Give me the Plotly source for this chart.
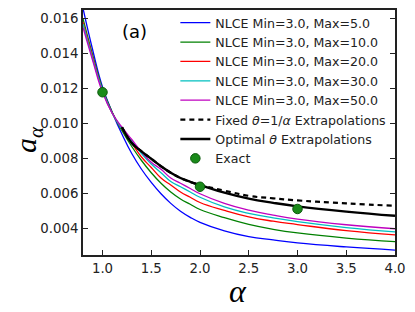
import plotly.graph_objects as go

alpha = [0.8, 0.9, 1.0, 1.1, 1.2, 1.3, 1.4, 1.5, 1.6, 1.7, 1.8, 1.9, 2.0, 2.25, 2.5, 2.75, 3.0, 3.5, 4.0]
nlce_max5 = [0.0166, 0.0142, 0.0121, 0.01065, 0.0094, 0.0083, 0.0074, 0.00665, 0.0060, 0.00545, 0.0050, 0.00465, 0.00437,
             0.00388, 0.00355, 0.00336, 0.00319, 0.00296, 0.00278]
nlce_max10 = [0.0160, 0.0139, 0.0120, 0.01065, 0.0096, 0.0087, 0.0079, 0.0072, 0.0066, 0.0061, 0.0057, 0.0054, 0.0051,
              0.00463, 0.00425, 0.00397, 0.00376, 0.00347, 0.00327]
nlce_max20 = [0.0158, 0.0138, 0.0119, 0.0106, 0.0097, 0.0089, 0.0081, 0.0075, 0.0069, 0.0065, 0.0061, 0.0058, 0.0055,
              0.00505, 0.00468, 0.00443, 0.00424, 0.00389, 0.00365]
nlce_max30 = [0.0157, 0.0137, 0.0119, 0.0106, 0.0097, 0.0090, 0.0083, 0.0077, 0.0072, 0.0067, 0.0064, 0.0061, 0.0058,
              0.00525, 0.00488, 0.00462, 0.00441, 0.00407, 0.00382]
nlce_max50 = [0.0155, 0.0136, 0.0118, 0.0106, 0.0098, 0.0091, 0.0084, 0.0078, 0.0074, 0.0069, 0.0066, 0.0063, 0.0060,
              0.00545, 0.00506, 0.00478, 0.00455, 0.00423, 0.00400]

alpha_ext = [1.2, 1.3, 1.4, 1.5, 1.6, 1.7, 1.8, 1.9, 2.0, 2.25, 2.5, 2.75, 3.0, 3.5, 4.0]
fixed_theta = [0.0098, 0.0089, 0.00842, 0.0080, 0.00757, 0.0072, 0.0069, 0.00668, 0.0065,
               0.00618, 0.00588, 0.00574, 0.00562, 0.00545, 0.00531]
optimal_theta = [0.0098, 0.0089, 0.00842, 0.0080, 0.00757, 0.0072, 0.0069, 0.00668, 0.0065,
                 0.00606, 0.00572, 0.00548, 0.00528, 0.00498, 0.00474]

alpha_exact = [1.0, 2.0, 3.0]
exact = [0.0118, 0.0064, 0.00513]

x_ticks = [1.0, 1.5, 2.0, 2.5, 3.0, 3.5, 4.0]
y_ticks = [0.004, 0.006, 0.008, 0.010, 0.012, 0.014, 0.016]

fig = go.Figure()
nlce = [
    ("NLCE Min=3.0, Max=5.0", nlce_max5, "#0000ff"),
    ("NLCE Min=3.0, Max=10.0", nlce_max10, "#008000"),
    ("NLCE Min=3.0, Max=20.0", nlce_max20, "#ff0000"),
    ("NLCE Min=3.0, Max=30.0", nlce_max30, "#00bfbf"),
    ("NLCE Min=3.0, Max=50.0", nlce_max50, "#bf00bf"),
]
for name, ys, col in nlce:
    fig.add_trace(go.Scatter(x=alpha, y=ys, mode="lines", name=name,
                             line=dict(color=col, width=1.3, shape="spline", smoothing=1.3)))

fig.add_trace(go.Scatter(x=alpha_ext, y=fixed_theta, mode="lines",
                         name="Fixed <i>θ</i>=1/<i>α</i> Extrapolations",
                         line=dict(color="black", width=2.2, dash="5px,4px", shape="spline", smoothing=1.3)))
fig.add_trace(go.Scatter(x=alpha_ext, y=optimal_theta, mode="lines",
                         name="Optimal <i>θ</i> Extrapolations",
                         line=dict(color="black", width=2.4, shape="spline", smoothing=1.3)))
fig.add_trace(go.Scatter(x=alpha_exact, y=exact, mode="markers", name="Exact",
                         marker=dict(color="#1a8a1a", size=9.5, line=dict(color="#0b5a0b", width=1))))

fig.add_annotation(text="(a)", x=0.166, y=0.913, xref="paper", yref="paper",
                   xanchor="center", yanchor="middle",
                   showarrow=False, font=dict(family="DejaVu Sans", size=18, color="black"))
# axis titles
fig.add_annotation(text="<i>α</i>", x=0.497, y=-0.148, xref="paper", yref="paper",
                   xanchor="center", yanchor="middle", showarrow=False,
                   font=dict(family="Liberation Serif", size=32, color="black"))
fig.add_annotation(text="<i>a</i><sub><i>α</i></sub>", x=-0.176, y=0.47, xref="paper", yref="paper",
                   xanchor="center", yanchor="middle", showarrow=False, textangle=-90,
                   font=dict(family="Liberation Serif", size=30, color="black"))

axis_common = dict(showline=True, linecolor="#222", linewidth=1.8,
                   ticks="inside", ticklen=5, tickwidth=1.2, tickcolor="#222",
                   showgrid=False, zeroline=False, automargin=False,
                   tickfont=dict(family="DejaVu Sans", size=13.3, color="#222"))

# the page body adds an 8px offset; margins compensate so the plot area lands at x 83-395, y 9-255
fig.update_layout(
    width=415, height=312,
    margin=dict(l=75, r=28, t=1, b=65),
    plot_bgcolor="white", paper_bgcolor="white",
    font=dict(family="DejaVu Sans", color="black"),
    xaxis=dict(range=[0.8, 4.0], tickvals=x_ticks, tickformat=".1f", mirror=True, **axis_common),
    yaxis=dict(range=[0.0025, 0.0165], tickvals=y_ticks, tickformat=".3f", mirror="ticks", **axis_common),
    legend=dict(x=0.296, y=1.005, xanchor="left", yanchor="top",
                bgcolor="rgba(255,255,255,0)", borderwidth=0,
                font=dict(family="DejaVu Sans", size=12.6, color="#222"),
                tracegroupgap=0, itemwidth=30, maxheight=300),
    showlegend=True,
)

fig.write_html("out.html")
